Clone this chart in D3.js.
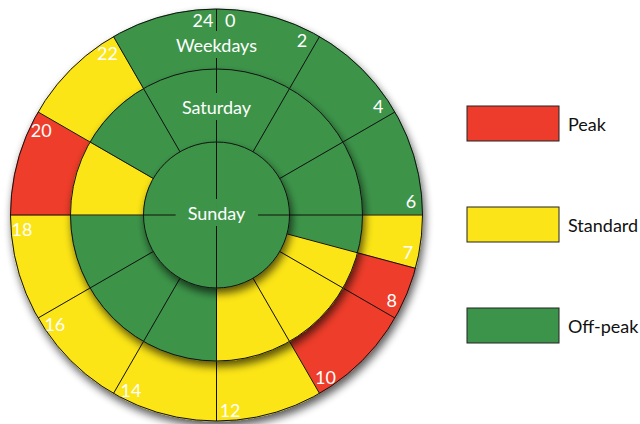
<!DOCTYPE html>
<html>
<head>
<meta charset="utf-8">
<script src="https://cdn.jsdelivr.net/npm/d3@7"></script>
<style>
  html, body { margin: 0; padding: 0; background: #fff; }
  svg { display: block; font-family: "Lato", "Open Sans", sans-serif; }
</style>
</head>
<body>
<svg id="chart" width="640" height="424"></svg>
<script>
// tariff bands, hours of the day
var bandStart = [0, 2, 4, 6, 7, 8, 10, 12, 14, 16, 18, 20, 22];
var bandEnd   = [2, 4, 6, 7, 8, 10, 12, 14, 16, 18, 20, 22, 24];
var weekdayTariff  = ["Off-peak", "Off-peak", "Off-peak", "Standard", "Peak", "Peak", "Standard",
                      "Standard", "Standard", "Standard", "Peak", "Standard", "Off-peak"];
var saturdayTariff = ["Off-peak", "Off-peak", "Off-peak", "Off-peak", "Standard", "Standard", "Standard",
                      "Off-peak", "Off-peak", "Off-peak", "Standard", "Off-peak", "Off-peak"];
var sundayStart  = [0, 6, 12, 18];
var sundayEnd    = [6, 12, 18, 24];
var sundayTariff = ["Off-peak", "Off-peak", "Off-peak", "Off-peak"];

var dayNames = ["Weekdays", "Saturday", "Sunday"];
var hourLabels = ["24", "0", "2", "4", "6", "7", "8", "10", "12", "14", "16", "18", "20", "22"];
var hourValues = [24, 0, 2, 4, 6, 7, 8, 10, 12, 14, 16, 18, 20, 22];
var tariffs = ["Peak", "Standard", "Off-peak"];
var tariffColors = ["#ee3c2c", "#fbe519", "#3c944a"];

var cx = 216.5, cy = 215;
var radii = [206, 146, 73];

var svg = d3.select("#chart");
var color = d3.scaleOrdinal().domain(tariffs).range(tariffColors);
var angle = d3.scaleLinear().domain([0, 24]).range([0, 2 * Math.PI]);

var defs = svg.append("defs");
var shadow = defs.append("filter").attr("id", "shadow")
    .attr("x", "-20%").attr("y", "-20%").attr("width", "140%").attr("height", "140%");
shadow.append("feGaussianBlur").attr("in", "SourceAlpha").attr("stdDeviation", 4);
shadow.append("feOffset").attr("dx", 2).attr("dy", 5).attr("result", "off");
shadow.append("feComponentTransfer").attr("result", "soft")
  .append("feFuncA").attr("type", "linear").attr("slope", 0.65);
var merge = shadow.append("feMerge");
merge.append("feMergeNode").attr("in", "soft");
merge.append("feMergeNode").attr("in", "SourceGraphic");

var mask = defs.append("mask").attr("id", "gaps").attr("maskUnits", "userSpaceOnUse")
    .attr("x", -cx).attr("y", -cy).attr("width", 640).attr("height", 424);
mask.append("rect").attr("x", -cx).attr("y", -cy).attr("width", 640).attr("height", 424).attr("fill", "#fff");

var g = svg.append("g").attr("transform", "translate(" + cx + "," + cy + ")");

var rings = [
  {name: dayNames[0], r: radii[0], start: bandStart, end: bandEnd, tariff: weekdayTariff},
  {name: dayNames[1], r: radii[1], start: bandStart, end: bandEnd, tariff: saturdayTariff},
  {name: dayNames[2], r: radii[2], start: sundayStart, end: sundayEnd, tariff: sundayTariff}
];

var arc = d3.arc().innerRadius(0);

rings.forEach(function(ring) {
  var rg = g.append("g").attr("filter", "url(#shadow)");
  var bands = ring.start.map(function(s, i) {
    return {start: s, end: ring.end[i], tariff: ring.tariff[i]};
  });
  rg.selectAll("path.band").data(bands).enter().append("path")
    .attr("class", "band")
    .attr("d", function(d) {
      return arc.outerRadius(ring.r).startAngle(angle(d.start)).endAngle(angle(d.end))();
    })
    .attr("fill", function(d) { return color(d.tariff); })
    .attr("stroke", function(d) { return color(d.tariff); })
    .attr("stroke-width", 0.5);
  rg.append("g").attr("mask", "url(#gaps)")
    .selectAll("line").data(ring.start).enter().append("line")
    .attr("x1", 0).attr("y1", 0)
    .attr("x2", function(h) { return ring.r * Math.sin(angle(h)); })
    .attr("y2", function(h) { return -ring.r * Math.cos(angle(h)); })
    .attr("stroke", "#111").attr("stroke-width", 1);
  rg.append("circle").attr("r", ring.r)
    .attr("fill", "none").attr("stroke", "#111").attr("stroke-width", 1);
});

// day names, cutting the lines underneath
var dayY = [-170, -108, -2];
var names = g.selectAll("text.day").data(dayNames).enter().append("text")
  .attr("class", "day")
  .attr("x", 0).attr("y", function(d, i) { return dayY[i]; })
  .attr("text-anchor", "middle").attr("dominant-baseline", "central")
  .attr("fill", "#fff").attr("font-size", 18)
  .text(function(d) { return d; });

names.each(function() {
  var b = this.getBBox();
  mask.append("rect")
    .attr("x", b.x - 12).attr("y", b.y - 3)
    .attr("width", b.width + 24).attr("height", b.height + 5)
    .attr("fill", "#000");
});

// hour labels just inside the outer rim
var labelR = 195, shift = 4 * Math.PI / 180;
g.selectAll("text.hour").data(hourValues).enter().append("text")
  .attr("class", "hour")
  .attr("x", function(h) { var a = angle(h) + (h === 0 ? shift : -shift); return labelR * Math.sin(a); })
  .attr("y", function(h) { var a = angle(h) + (h === 0 ? shift : -shift); return -labelR * Math.cos(a); })
  .attr("text-anchor", "middle").attr("dominant-baseline", "central")
  .attr("fill", "#fff").attr("font-size", 18)
  .text(function(h, i) { return hourLabels[i]; });

// legend
var legend = svg.append("g").attr("transform", "translate(467,106)");
var item = legend.selectAll("g").data(tariffs).enter().append("g")
  .attr("transform", function(d, i) { return "translate(0," + (i * 101) + ")"; });
item.append("rect")
  .attr("width", 92).attr("height", 35)
  .attr("fill", function(d) { return color(d); })
  .attr("stroke", "#222").attr("stroke-width", 1);
item.append("text")
  .attr("x", 101).attr("y", 17.5)
  .attr("dominant-baseline", "central")
  .attr("fill", "#111").attr("font-size", 18)
  .text(function(d) { return d; });
</script>
</body>
</html>
